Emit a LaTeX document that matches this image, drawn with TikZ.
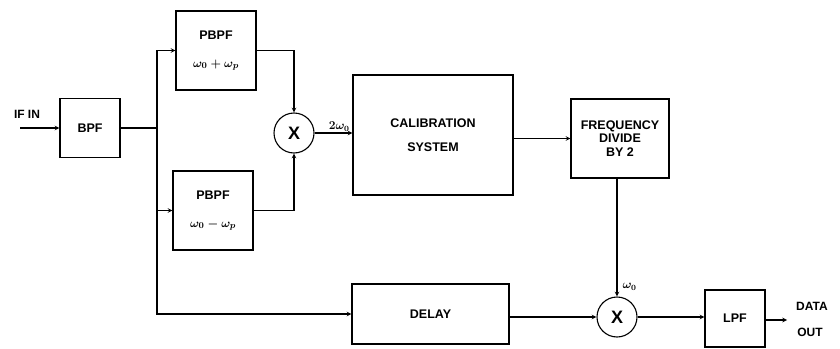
\documentclass[tikz,border=0pt]{standalone}
\usepackage{amsmath}
\usepackage{fontspec}
\setmainfont{Liberation Sans}
\usepackage{tikz}
\usetikzlibrary{shapes.geometric, arrows, positioning}
\tikzstyle{arrow}     = [->,>=stealth]
\tikzset{every node/.style={align=center}}

\begin{document}
\begin{tikzpicture}[
    x=1pt, y=-1pt,
    line width=1.1pt,
    blk/.style={draw, font=\bfseries\boldmath\fontsize{12.5}{14}\selectfont, inner sep=2pt},
    mix/.style={draw, circle, minimum size=40pt, inner sep=0pt, font=\bfseries\fontsize{18}{19}\selectfont},
    lbl/.style={font=\bfseries\boldmath\fontsize{12}{13}\selectfont, inner sep=1pt}
]
  \useasboundingbox (0,0) rectangle (840,348);

  \node (BPF) at (90,128)    [blk, minimum width=60pt,  minimum height=59pt] {BPF};
  \node (PB1) at (216,50.5)  [blk, minimum width=80pt,  minimum height=79pt] {PBPF\\[14pt]$\omega_0 + \omega_p$};
  \node (PB2) at (213,210.5) [blk, minimum width=80pt,  minimum height=79pt] {PBPF\\[14pt]$\omega_0 - \omega_p$};
  \node (MX1) at (294,133)   [mix] {X};
  \node (CAL) at (433,135)   [blk, minimum width=160pt, minimum height=120pt] {CALIBRATION\\[10pt]SYSTEM};
  \node (FD2) at (620,138.5) [blk, minimum width=98pt,  minimum height=79pt] {FREQUENCY\\[-0.5pt]DIVIDE\\[-0.5pt]BY 2};
  \node (DLY) at (430.5,314) [blk, minimum width=157pt, minimum height=60pt] {DELAY};
  \node (MX2) at (617,317)   [mix] {X};
  \node (LPF) at (735,318.5) [blk, minimum width=60pt,  minimum height=57pt] {LPF};

  \coordinate (IN)  at (20,128);
  \coordinate (J)   at (157,128);
  \coordinate (OUT) at (787,320);

  \node (IFIN) at (27,114)  [lbl] {IF IN};
  \node (DAT)  at (812,306) [lbl] {DATA};
  \node (DOUT) at (810,332) [lbl] {OUT};

  \draw[arrow] (IN) -- (BPF.west);
  \draw (BPF.east) -- (J);
  \draw[arrow] (J) |- (PB1.west);
  \draw[arrow] (J) |- (PB2.west);
  \draw[arrow] (J) |- (DLY.west);
  \draw[arrow] (PB1.east) -| (MX1.north);
  \draw[arrow] (PB2.east) -| (MX1.south);
  \draw[arrow] (MX1.east) -- node[lbl,above,pos=0.65]{$2\omega_0$} (MX1.east -| CAL.west);
  \draw[arrow] (CAL.east |- FD2.west) -- (FD2.west);
  \draw[arrow] (FD2.south -| MX2.north) -- node[lbl,right,pos=0.92,xshift=4pt]{$\omega_0$} (MX2.north);
  \draw[arrow] (DLY.east |- MX2.west) -- (MX2.west);
  \draw[arrow] (MX2.east) -- (MX2.east -| LPF.west);
  \draw[arrow] (LPF.east |- OUT) -- (OUT);
\end{tikzpicture}
\end{document}
